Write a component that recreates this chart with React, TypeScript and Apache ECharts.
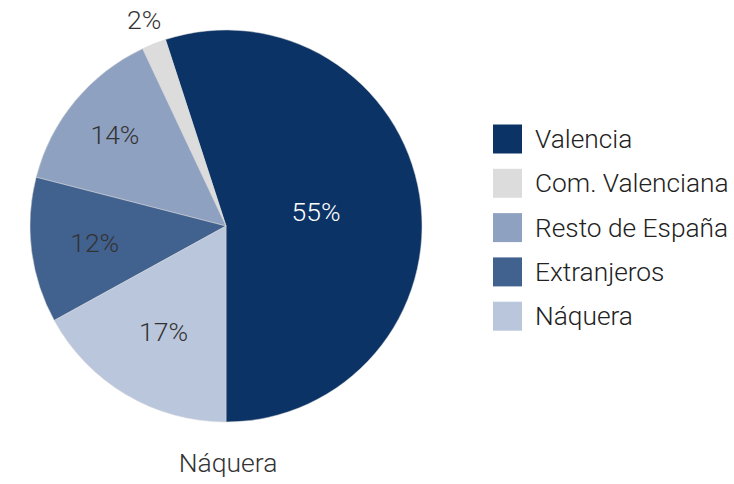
import React, { useEffect, useRef } from "react";
import * as echarts from "echarts";

const categories = ["Valencia", "Com. Valenciana", "Resto de España", "Extranjeros", "Náquera"];
const values = [55, 2, 14, 12, 17];
const colors = ["#0c3366", "#dcdcdc", "#8fa1c1", "#41618f", "#bac6dc"];
const labelColors = ["#ffffff", "#333333", "#333333", "#333333", "#333333"];
// radial position of each label as a fraction of the radius
const labelRadius = [0.45, 1.12, 0.72, 0.66, 0.61];
const title = "Náquera";

const FONT = "Roboto, 'Liberation Sans', sans-serif";
const WEIGHT = 300;

export default function App() {
  const ref = useRef<HTMLDivElement>(null);
  useEffect(() => {
    if (!ref.current) return;
    const chart = echarts.init(ref.current, null, { renderer: "svg" });
    const R = 196;
    const total = values.reduce((a, b) => a + b, 0);
    let acc = 0;
    const data = values.map((v, i) => {
      const start = 180 - (acc / total) * 360;
      acc += v;
      const end = 180 - (acc / total) * 360;
      const mid = ((start + end) / 2) * Math.PI / 180;
      const dirx = Math.sin(mid);
      const diry = -Math.cos(mid);
      const extra = (labelRadius[i] - 0.5) * R;
      return {
        name: categories[i],
        value: v,
        itemStyle: { color: colors[i] },
        label: {
          color: labelColors[i],
          offset: [dirx * extra, diry * extra],
        },
      };
    });
    chart.setOption({
      animation: false,
      backgroundColor: "#ffffff",
      title: {
        text: title,
        left: 228,
        top: 449,
        padding: 0,
        textAlign: "center",
        textStyle: { fontFamily: FONT, fontSize: 26.5, fontWeight: WEIGHT, color: "#333333" },
      },
      legend: {
        orient: "vertical",
        left: 493,
        top: 124.5,
        padding: 0,
        itemWidth: 29,
        itemHeight: 29,
        itemGap: 15.3,
        icon: "rect",
        itemStyle: { borderWidth: 0 },
        data: categories,
        textStyle: {
          fontFamily: FONT,
          fontSize: 26.3,
          fontWeight: WEIGHT,
          lineHeight: 29,
          color: "#222222",
          padding: [0, 0, 0, 8],
        },
      },
      series: [
        {
          type: "pie",
          center: [226, 226],
          radius: [0, 196],
          startAngle: -90,
          clockwise: false,
          avoidLabelOverlap: false,
          itemStyle: { borderColor: "#d8d8d8", borderWidth: 0.5 },
          label: {
            show: true,
            position: "inside",
            formatter: "{c}%",
            fontFamily: FONT,
            fontWeight: WEIGHT,
            fontSize: 26.5,
          },
          labelLine: { show: false },
          emphasis: { disabled: true },
          data,
        },
      ],
    });
    return () => chart.dispose();
  }, []);
  return (
    <div
      ref={ref}
      style={{ position: "fixed", left: 0, top: 0, width: 734, height: 484 }}
    />
  );
}
